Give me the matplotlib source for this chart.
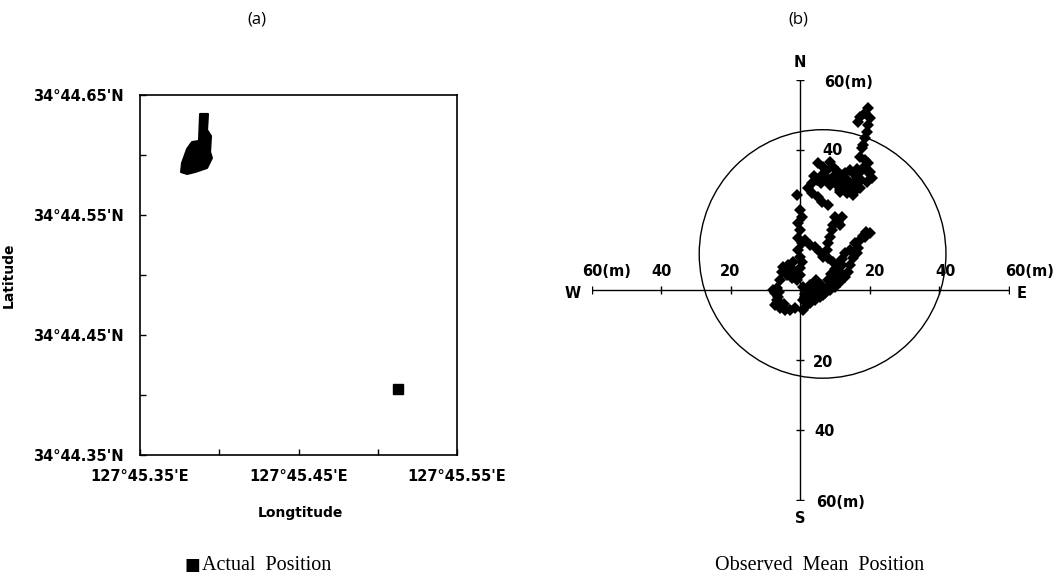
import matplotlib
matplotlib.use("Agg")
import matplotlib.pyplot as plt
from matplotlib.patches import Circle, Polygon

# ---- data ------------------------------------------------------------------
# (a) positions in minutes (lon 127°45.xx'E, lat 34°44.xx'N)
blob_lon = [45.3879, 45.3929, 45.3923, 45.3948, 45.3942, 45.3954, 45.3923,
            45.3847, 45.3797, 45.3759, 45.3765, 45.3797, 45.3828, 45.3872]
blob_lat = [44.6342, 44.6342, 44.6208, 44.6158, 44.6025, 44.5975, 44.5892,
            44.5858, 44.5842, 44.5858, 44.5933, 44.6050, 44.6108, 44.6117]
actual_lon = [45.513]
actual_lat = [44.405]

lon_ticks = [45.35, 45.45, 45.55]
lat_ticks = [44.35, 44.45, 44.55, 44.65]
lon_labels = ["127°45.35'E", "127°45.45'E", "127°45.55'E"]
lat_labels = ["34°44.35'N", "34°44.45'N", "34°44.55'N", "34°44.65'N"]

# (b) observed mean positions relative to actual position (m)
obs_east = [19.6, 18.7, 17.3, 16.7, 20.1, 19.6, 19.3, 18.7, 18.1, 17.8,
            17.3, 18.7, 19.6, 20.1, 20.7, 19.3, 17.3, 16.4, 15.8, 17.3,
            5.2, 6.6, 8.6, 9.5, 10.9, 12.4, 13.5, 14.4, 15.0, 6.3,
            4.9, 3.5, 2.3, 7.8, 8.6, 10.6, 11.5, 12.9, 15.8, 14.4, 12.1, 19.6,
            7.5, 10.0, 11.5, 13.0, 14.0, 16.0, 17.5, 18.0, 16.5, 9.0,
            4.0, 6.0, 13.0, 16.0, 19.0,
            -0.9, 3.5, 5.2, 6.3, 8.1, 11.5, 13.5, 15.3,
            0.0, 0.6, -0.6, 0.0, -0.6, 0.6, -0.6, 0.0, 0.6, 0.0, 0.0,
            12.1, 10.9, 9.5, 9.2, 8.6, 8.1, 7.8, 10.0, 11.5,
            20.1, 18.7, 17.3, 15.8, 16.7, 16.4, 15.3, 14.4, 13.8, 12.9,
            11.5, 10.1, 8.6, 7.2, 5.8, 4.3, 2.9,
            1.4, 2.9, 4.3, 5.8, 6.6, 8.1, 9.5, 10.6, 12.1, 11.5,
            10.6, 9.5, 8.6, 7.8, 6.6, 5.2, 3.7, 2.9, 2.0, 0.9,
            1.4, 2.9, 2.0, 4.3,
            3.5, 5.0, 6.0, 8.0, 9.0, 10.0, 12.0, 13.0, 14.5, 3.0,
            4.5, 1.5, 18.0, 19.0,
            -2.0, -3.5, -4.9, -5.2, -3.7, -2.3, -0.9, -2.0, -5.8, -6.6,
            -7.2, -6.6, -7.2, -6.3, -6.6, -5.8, -4.3, -2.9, -1.4, -7.8,
            -4.5, -6.0, -4.0, -1.0,
            0.9, 2.0, 0.9, 2.3]
obs_north = [52.0, 50.6, 49.4, 48.0, 49.1, 47.1, 45.1, 43.4, 41.4, 40.6,
             38.0, 37.1, 36.3, 33.7, 32.0, 30.9, 33.7, 32.0, 30.0, 29.1,
             36.3, 35.1, 36.6, 35.1, 33.7, 32.9, 31.4, 30.0, 28.0, 32.9,
             31.4, 30.6, 29.1, 32.0, 30.0, 30.0, 28.6, 30.0, 32.9, 34.3, 31.4, 33.7,
             34.0, 33.0, 32.0, 33.5, 31.0, 31.0, 31.5, 35.0, 34.5, 31.5,
             32.5, 30.5, 29.0, 28.5, 34.5,
             27.1, 27.7, 26.6, 25.1, 24.3, 28.0, 27.7, 27.1,
             22.9, 20.9, 19.1, 17.1, 14.9, 13.4, 11.4, 9.4, 8.0, 6.3, 4.3,
             20.9, 19.4, 18.6, 17.1, 15.1, 13.4, 11.4, 21.0, 18.5,
             16.3, 15.1, 14.3, 13.4, 12.0, 10.6, 9.1, 7.1, 5.1, 3.7,
             2.3, 0.9, 0.0, -0.9, -2.0, -2.9, -3.7,
             14.3, 12.9, 12.3, 10.9, 9.4, 9.1, 8.0, 7.1, 7.1, 5.1,
             3.7, 2.9, 1.4, 0.0, -1.4, 0.0, 0.6, 0.9, 0.0, 0.9,
             -2.0, -2.9, -4.3, -1.4,
             -1.0, -2.0, 1.5, 3.0, 4.5, 6.0, 9.0, 10.5, 11.5, 1.5,
             3.0, -1.0, 15.5, 16.5,
             8.0, 7.1, 6.6, 5.1, 4.3, 3.4, 2.9, 5.7, 2.9, 0.6,
             -0.9, -2.9, -4.3, -2.0, -3.7, -5.1, -5.7, -5.7, -5.1, 0.0,
             -4.0, -0.5, 5.8, 5.0,
             -2.9, -3.7, -5.7, -2.3]

circle_center = (6.5, 10.3)
circle_radius = 35.5

axis_ticks = [-60, -40, -20, 20, 40, 60]

# ---- figure ---------------------------------------------------------------
fig = plt.figure(figsize=(10.59, 5.77), dpi=100)
bold = dict(fontweight="bold", family="DejaVu Sans")

# ---- (a) ------------------------------------------------------------------
ax = fig.add_axes([140 / 1059, 1 - 455 / 577, 317 / 1059, 360 / 577])
ax.add_patch(Polygon(list(zip(blob_lon, blob_lat)), closed=True,
                     facecolor="black", edgecolor="black", lw=1.5,
                     joinstyle="round"))
ax.plot(actual_lon, actual_lat, "s", color="black", markersize=7)
ax.set_xlim(45.35, 45.55)
ax.set_ylim(44.35, 44.65)
ax.set_xticks(lon_ticks)
ax.set_xticklabels(lon_labels, fontsize=10.5, **bold)
ax.set_yticks(lat_ticks)
ax.set_yticklabels(lat_labels, fontsize=10.5, **bold)
ax.set_xticks([45.40, 45.50], minor=True)
ax.set_yticks([44.40, 44.50, 44.60], minor=True)
ax.tick_params(which="both", direction="in", length=4, width=1)
ax.tick_params(axis="x", pad=10)
ax.tick_params(axis="y", pad=12)
for s in ax.spines.values():
    s.set_linewidth(1.2)
ax.set_ylabel("Latitude", fontsize=10, labelpad=12, **bold)
fig.text(300 / 1059, 1 - 513 / 577, "Longtitude", ha="center", va="center",
         fontsize=10, **bold)
fig.text(257 / 1059, 1 - 20 / 577, "(a)", ha="center", va="center",
         fontsize=12, family="Open Sans")

# ---- (b) ------------------------------------------------------------------
bx = fig.add_axes([591.5 / 1059, 1 - 500 / 577, 417 / 1059, 420 / 577])
bx.set_xlim(-60, 60)
bx.set_ylim(-60, 60)
bx.axis("off")
bx.plot([-60, 60], [0, 0], color="black", lw=1)
bx.plot([0, 0], [-60, 60], color="black", lw=1)
bx.plot(axis_ticks, [0] * len(axis_ticks), "|", color="black",
        markersize=6, mew=1)
bx.plot([0] * len(axis_ticks), axis_ticks, "_", color="black",
        markersize=6, mew=1)
bx.add_patch(Circle(circle_center, circle_radius, fill=False,
                    edgecolor="black", lw=1))
bx.plot(obs_east, obs_north, "D", color="black", markersize=6, mew=0)

lab = dict(fontsize=10.5, ha="center", va="center", **bold)
bx.text(-55.8, 5.2, "60(m)", **lab)
bx.text(-39.7, 5.2, "40", **lab)
bx.text(-20, 5.2, "20", **lab)
bx.text(21.6, 5.2, "20", **lab)
bx.text(42, 5.2, "40", **lab)
bx.text(59, 5.2, "60(m)", fontsize=10.5, ha="left", va="center", **bold)
bx.text(-65.3, -0.9, "W", **lab)
bx.text(63.9, -0.9, "E", **lab)
bx.text(0, 65, "N", **lab)
bx.text(0, -65.4, "S", **lab)
bx.text(14, 59.4, "60(m)", **lab)
bx.text(9.5, 40, "40", **lab)
bx.text(6.6, -20.6, "20", **lab)
bx.text(7.2, -40.3, "40", **lab)
bx.text(11.8, -60.6, "60(m)", **lab)
fig.text(798 / 1059, 1 - 20 / 577, "(b)", ha="center", va="center",
         fontsize=12, family="Open Sans")

# ---- captions -------------------------------------------------------------
fig.text(192 / 1059, 1 - 565 / 577, "■", ha="center", va="center",
         fontsize=12, family="DejaVu Sans")
fig.text(202 / 1059, 1 - 566 / 577, "Actual  Position", ha="left",
         va="center", fontsize=14.5, family="Liberation Serif")
fig.text(820 / 1059, 1 - 565 / 577, "Observed  Mean  Position", ha="center",
         va="center", fontsize=14.5, family="Liberation Serif")

fig.savefig("out.png", dpi=100)
